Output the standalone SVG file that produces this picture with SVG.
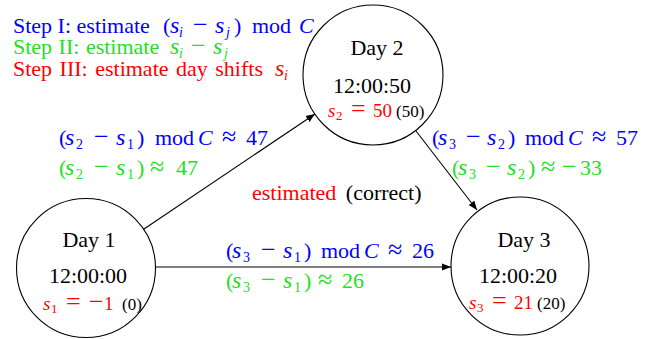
<svg xmlns="http://www.w3.org/2000/svg" width="657" height="339" viewBox="0 0 657 339">
<style>
text{font-family:"Times New Roman","Liberation Serif",serif;font-size:22px}
.i{font-style:italic}
.ms{font-style:italic;font-size:24px}
.sub{font-size:14px}
.op{font-size:26px}
.nm{font-size:19px}
.ns{font-size:13px}
.ne{font-size:26px}
.np{font-size:17px}
.b{fill:#0000ff}
.g{fill:#22e022}
.r{fill:#ff0000}
.k{fill:#000}
.node{fill:#fff;stroke:#000;stroke-width:1.1}
.edge{stroke:#000;stroke-width:1.1;fill:none;marker-end:url(#arr)}
</style>
<defs>
<marker id="arr" viewBox="0 0 10 10" refX="10" refY="5" markerWidth="9" markerHeight="9" markerUnits="userSpaceOnUse" orient="auto">
<path d="M0,1 L10,5 L0,9 Z" fill="#000"/>
</marker>
</defs>
<rect width="657" height="339" fill="#fff"/>
<g id="connectors">
<line class="edge" x1="144" y1="229" x2="315" y2="114"/>
<line class="edge" x1="416" y1="131" x2="477" y2="210"/>
<line class="edge" x1="156" y1="267" x2="451" y2="267"/>
</g>
<g id="legend">
<text x="13" y="33" class="b">Step I: estimate <tspan x="163">(</tspan><tspan x="170" class="ms">s</tspan><tspan x="179" class="i sub" dy="4">i</tspan><tspan x="193" class="op" dy="-4">−</tspan><tspan x="215" class="ms">s</tspan><tspan x="226" class="i sub" dy="4">j</tspan><tspan x="234" dy="-4">)</tspan><tspan x="252">mod</tspan><tspan x="299" class="i">C</tspan></text>
<text x="13" y="54" class="g"><tspan word-spacing="1">Step II: estimate</tspan><tspan x="170" class="ms">s</tspan><tspan x="179" class="i sub" dy="4">i</tspan><tspan x="191" class="op" dy="-4">−</tspan><tspan x="213" class="ms">s</tspan><tspan x="224" class="i sub" dy="4">j</tspan></text>
<text x="13" y="76" class="r"><tspan word-spacing="2">Step III: estimate day shifts</tspan><tspan x="275" class="ms">s</tspan><tspan x="284" class="i sub" dy="4">i</tspan></text>
</g>
<g id="label-12">
<text y="145" class="b"><tspan x="59">(</tspan><tspan x="65" class="ms">s</tspan><tspan x="76" class="sub" dy="4">2</tspan><tspan x="94" class="op" dy="-4">−</tspan><tspan x="116" class="ms">s</tspan><tspan x="127" class="sub" dy="4">1</tspan><tspan x="137" dy="-4">)</tspan><tspan x="155">mod</tspan><tspan x="198" class="i">C</tspan><tspan x="222" class="op">≈</tspan><tspan x="246">47</tspan></text>
<text y="175" class="g"><tspan x="59">(</tspan><tspan x="65" class="ms">s</tspan><tspan x="76" class="sub" dy="4">2</tspan><tspan x="94" class="op" dy="-4">−</tspan><tspan x="116" class="ms">s</tspan><tspan x="127" class="sub" dy="4">1</tspan><tspan x="137" dy="-4">)</tspan><tspan x="150" class="op">≈</tspan><tspan x="176">47</tspan></text>
</g>
<g id="label-23">
<text y="145" class="b"><tspan x="432">(</tspan><tspan x="438" class="ms">s</tspan><tspan x="449" class="sub" dy="4">3</tspan><tspan x="466" class="op" dy="-4">−</tspan><tspan x="487" class="ms">s</tspan><tspan x="498" class="sub" dy="4">2</tspan><tspan x="508" dy="-4">)</tspan><tspan x="525">mod</tspan><tspan x="568" class="i">C</tspan><tspan x="592" class="op">≈</tspan><tspan x="616">57</tspan></text>
<text y="175" class="g"><tspan x="452">(</tspan><tspan x="458" class="ms">s</tspan><tspan x="469" class="sub" dy="4">3</tspan><tspan x="486" class="op" dy="-4">−</tspan><tspan x="507" class="ms">s</tspan><tspan x="518" class="sub" dy="4">2</tspan><tspan x="528" dy="-4">)</tspan><tspan x="541" class="op">≈</tspan><tspan x="562" class="op">−</tspan><tspan x="580">33</tspan></text>
</g>
<g id="label-13">
<text y="258" class="b"><tspan x="226">(</tspan><tspan x="232" class="ms">s</tspan><tspan x="243" class="sub" dy="4">3</tspan><tspan x="261" class="op" dy="-4">−</tspan><tspan x="283" class="ms">s</tspan><tspan x="294" class="sub" dy="4">1</tspan><tspan x="304" dy="-4">)</tspan><tspan x="321">mod</tspan><tspan x="364" class="i">C</tspan><tspan x="388" class="op">≈</tspan><tspan x="412">26</tspan></text>
<text y="288" class="g"><tspan x="226">(</tspan><tspan x="232" class="ms">s</tspan><tspan x="243" class="sub" dy="4">3</tspan><tspan x="261" class="op" dy="-4">−</tspan><tspan x="283" class="ms">s</tspan><tspan x="294" class="sub" dy="4">1</tspan><tspan x="304" dy="-4">)</tspan><tspan x="318" class="op">≈</tspan><tspan x="342">26</tspan></text>
</g>
<g id="key">
<text x="252" y="200" word-spacing="4"><tspan class="r">estimated</tspan> <tspan class="k">(correct)</tspan></text>
</g>
<g id="day1">
<circle class="node" cx="86" cy="268" r="69.5"/>
<text x="89" y="247" text-anchor="middle">Day 1</text>
<text x="88" y="283" text-anchor="middle">12:00:00</text>
<text y="310" class="nm"><tspan x="43" class="r i">s</tspan><tspan x="51" class="r ns" dy="3">1</tspan><tspan x="66" class="r ne" dy="-3">=</tspan><tspan x="89" class="r ne">−</tspan><tspan x="104" class="r">1</tspan><tspan x="122" class="np k">(0)</tspan></text>
</g>
<g id="day2">
<circle class="node" cx="373" cy="75" r="70"/>
<text x="377" y="55" text-anchor="middle">Day 2</text>
<text x="372" y="93" text-anchor="middle">12:00:50</text>
<text y="117" class="nm"><tspan x="328" class="r i">s</tspan><tspan x="336" class="r ns" dy="3">2</tspan><tspan x="351" class="r ne" dy="-3">=</tspan><tspan x="373" class="r">50</tspan><tspan x="396" class="np k">(50)</tspan></text>
</g>
<g id="day3">
<circle class="node" cx="520" cy="266" r="69"/>
<text x="524" y="247" text-anchor="middle">Day 3</text>
<text x="518" y="283" text-anchor="middle">12:00:20</text>
<text y="309" class="nm"><tspan x="469" class="r i">s</tspan><tspan x="477" class="r ns" dy="3">3</tspan><tspan x="492" class="r ne" dy="-3">=</tspan><tspan x="514" class="r">21</tspan><tspan x="537" class="np k">(20)</tspan></text>
</g>
</svg>
